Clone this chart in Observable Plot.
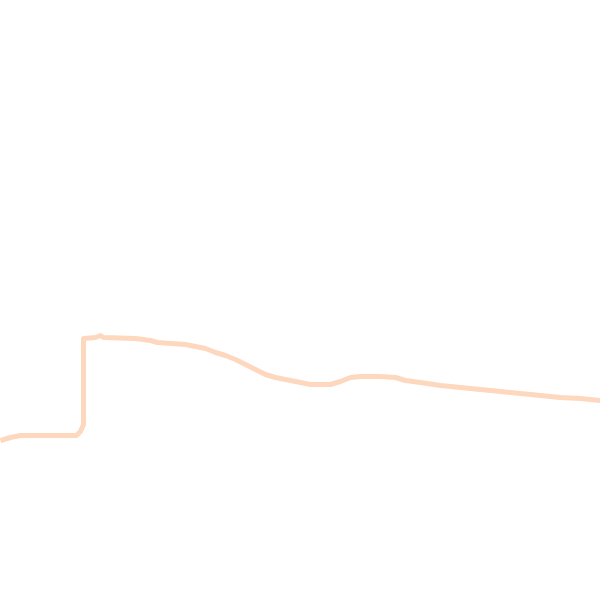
<!DOCTYPE html>
<html>
<head>
<meta charset="utf-8">
<script src="https://cdn.jsdelivr.net/npm/d3@7"></script>
<script src="https://cdn.jsdelivr.net/npm/@observablehq/plot@0.6"></script>
<style>
  html, body { margin: 0; padding: 0; background: #fff; }
  #chart svg { display: block; }
</style>
</head>
<body>
<div id="chart"></div>
<script>
// Series: position along the x axis and value (no axes are shown in the reference)
const xs = [0, 10, 20, 76, 80, 83, 83, 95, 100, 103, 135, 150, 157, 185, 195, 205, 215, 225, 235, 245, 255, 265, 275, 290, 310, 330, 340, 350, 360, 380, 395, 405, 420, 440, 460, 480, 500, 520, 540, 560, 580, 600];
const values = [160, 163, 165, 165, 169, 176, 262, 263, 265, 263, 262, 260, 258, 256, 254, 252, 248, 245, 241, 236, 231, 226, 223, 220, 216, 216, 219, 223, 224, 224, 223, 220, 218, 215, 213, 211, 209, 207, 205, 203, 202, 200];

const data = xs.map((x, i) => ({x, v: values[i]}));

const chart = Plot.plot({
  width: 600,
  height: 600,
  margin: 0,
  x: {domain: [0, 600], axis: null},
  y: {domain: [0, 600], axis: null},
  marks: [
    Plot.line(data, {x: "x", y: "v", stroke: "#fdd8be", strokeWidth: 5, strokeLinejoin: "round", strokeLinecap: "butt"})
  ]
});
document.getElementById("chart").append(chart);
</script>
</body>
</html>
